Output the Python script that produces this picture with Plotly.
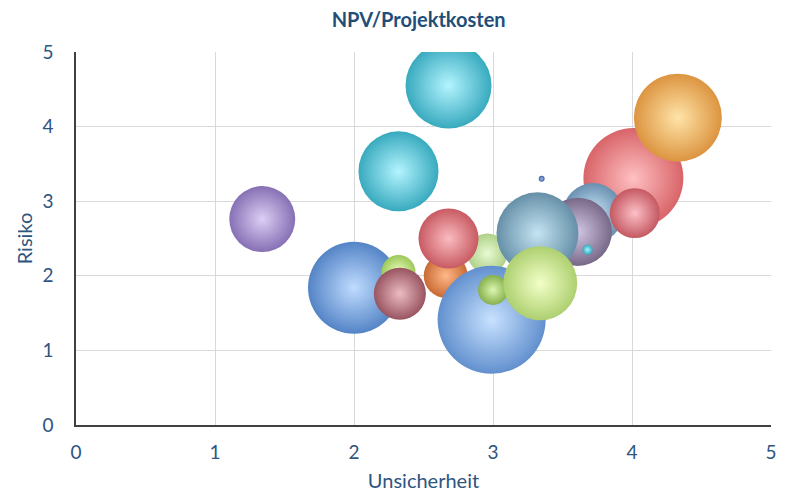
import plotly.graph_objects as go

# Data: Unsicherheit (x), Risiko (y), bubble size (NPV/Projektkosten)
unsicherheit = [1.34, 2.68, 2.32, 2.00, 2.32, 2.33, 2.66, 2.96, 2.68, 2.99,
                3.00, 4.01, 3.72, 3.61, 3.68, 3.32, 3.34, 4.02, 4.33, 3.35]
risiko = [2.76, 4.55, 3.40, 1.84, 2.05, 1.76, 2.00, 2.30, 2.50, 1.41,
          1.81, 3.31, 2.84, 2.59, 2.35, 2.57, 1.90, 2.84, 4.12, 3.30]
npv = [37.3, 63.4, 54.9, 72.6, 9.9, 23.2, 16.6, 13.7, 30.9, 100.0,
       7.7, 85.7, 30.9, 40.0, 0.9, 57.6, 46.9, 21.4, 66.4, 0.3]

edge_colors = ["#8670B4", "#38AABE", "#38AABE", "#5484C6", "#9CC858", "#985460",
               "#C86A34", "#AED088", "#C85A62", "#6290CE", "#86B04C", "#D86468",
               "#6890B0", "#786888", "#30A8BC", "#6690A8", "#AED070", "#C45862",
               "#DC9440", "#4262A0"]
center_colors = ["#DCCEF4", "#B4F4FF", "#B4F4FF", "#C0DCFF", "#ECFFC0", "#ECBCC2",
                 "#FFB888", "#E8FAD2", "#FABCC0", "#C8E2FF", "#DCF6B0", "#FFC0C2",
                 "#CAE4F6", "#D2C6E4", "#A8F4FF", "#C4E4F2", "#F2FFC8", "#FCC0C6",
                 "#FFE4A8", "#98B8F0"]

fig = go.Figure()
fig.add_trace(go.Scatter(
    x=unsicherheit, y=risiko, mode="markers",
    marker=dict(
        size=npv, sizemode="area", sizeref=2 / 116.64, sizemin=2,
        color=edge_colors,
        gradient=dict(type="radial", color=center_colors),
        line=dict(width=0),
        opacity=1,
    ),
    hovertemplate="Unsicherheit: %{x}<br>Risiko: %{y}<extra></extra>",
    showlegend=False,
))

font_family = "Lato, 'Open Sans', sans-serif"
text_color = "#2E5480"

fig.update_layout(
    width=788, height=494,
    margin=dict(l=68, r=25, t=44, b=77, autoexpand=False),
    paper_bgcolor="white", plot_bgcolor="white",
    title=dict(text="<b>NPV/Projektkosten</b>", x=0.493, xref="paper", xanchor="center",
               y=1 - 12 / 494, yref="container", yanchor="middle",
               font=dict(family=font_family, size=20, color="#1F4E79")),
    font=dict(family=font_family, color=text_color),
    xaxis=dict(range=[0, 5], dtick=1, showgrid=True, gridcolor="#D9D9D9", gridwidth=1,
               showline=True, linecolor="#404040", linewidth=1.5, zeroline=False,
               ticks="", tickfont=dict(size=19, color=text_color), automargin=False,
               ticklabelstandoff=9,
               title=dict(text="Unsicherheit", font=dict(size=20, color=text_color), standoff=12),
               fixedrange=True),
    yaxis=dict(range=[0, 5], dtick=1, showgrid=True, gridcolor="#D9D9D9", gridwidth=1,
               showline=True, linecolor="#404040", linewidth=1.5, zeroline=False,
               ticks="", tickfont=dict(size=19, color=text_color), automargin=False,
               ticklabelstandoff=17,
               title=dict(text="Risiko", font=dict(size=20, color=text_color), standoff=4),
               fixedrange=True),
)

fig.write_html("out.html")
